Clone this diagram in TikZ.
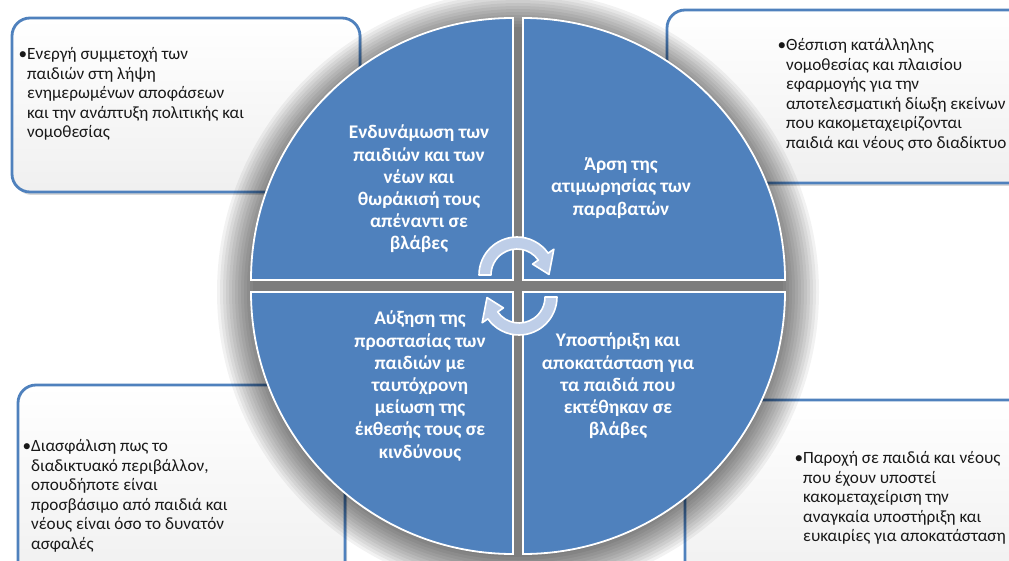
\documentclass[tikz,border=0pt]{standalone}
\usepackage{fontspec}
\setmainfont{Carlito}
\usetikzlibrary{shadows}
\definecolor{quadblue}{RGB}{79,129,189}
\definecolor{arrowblue}{RGB}{190,206,232}
\tikzset{
  infobox/.style={draw=quadblue, line width=2.8pt, rounded corners=18pt,
    top color=white, bottom color=black!6,
    drop shadow={shadow xshift=2pt, shadow yshift=-3pt, opacity=.3}},
  quad/.style={fill=quadblue, draw=white, line width=1.8pt},
  quadtext/.style={text=white, font=\bfseries\fontsize{19.3}{22.2}\selectfont, align=center, inner sep=0pt},
  boxtext/.style={font=\fontsize{17.2}{19.5}\selectfont, align=left, anchor=west, inner sep=0pt, text=black!90},
  cycarrow/.style={fill=arrowblue, draw=white, line width=1.6pt, line join=round}
}
\begin{document}
\begin{tikzpicture}[x=1pt,y=-1pt]
\useasboundingbox (0,0) rectangle (1009,561);
\clip (0,0) rectangle (1009,561);
\fill[white] (0,0) rectangle (1009,561);
\draw[infobox] (12,18) rectangle (360,192);
\draw[infobox] (667,10) rectangle (1030,183);
\draw[infobox] (18,385) rectangle (345,585);
\draw[infobox] (685,400) rectangle (1030,585);
\foreach \r in {265,268,...,301} \fill[black, opacity=.05] (518,292) circle[radius=\r];
\path[quad] (513,280) -- (251,280) arc[start angle=180, end angle=270, radius=262] -- cycle;
\path[quad] (523,280) -- (523,18) arc[start angle=270, end angle=360, radius=262] -- cycle;
\path[quad] (513,292) -- (251,292) arc[start angle=180, end angle=90, radius=262] -- cycle;
\path[quad] (523,292) -- (785,292) arc[start angle=0, end angle=90, radius=262] -- cycle;
\begin{scope}[shift={(517,275)}]
\path[cycarrow] (180:38) arc[start angle=180, end angle=325, radius=38] -- (325:45) -- (359:32) -- (325:19) -- (325:26) arc[start angle=325, end angle=180, radius=26] -- cycle;
\end{scope}
\begin{scope}[shift={(519,297)}]
\path[cycarrow] (0:38) arc[start angle=0, end angle=145, radius=38] -- (145:45) -- (179:32) -- (145:19) -- (145:26) arc[start angle=145, end angle=0, radius=26] -- cycle;
\end{scope}
\node[quadtext] (empower) at (419,189) {Ενδυνάμωση των\\παιδιών και των\\νέων και\\θωράκισή τους\\απέναντι σε\\βλάβες};
\node[quadtext] (impunity) at (621,188) {Άρση της\\ατιμωρησίας των\\παραβατών};
\node[quadtext] (protect) at (420,386) {Αύξηση της\\προστασίας των\\παιδιών με\\ταυτόχρονη\\μείωση της\\έκθεσής τους σε\\κινδύνους};
\node[quadtext] (support) at (618,386) {Υποστήριξη και\\αποκατάσταση για\\τα παιδιά που\\εκτέθηκαν σε\\βλάβες};
\node[boxtext] (participation) at (27,94) {\llap{•}Ενεργή συμμετοχή των\\παιδιών στη λήψη\\ενημερωμένων αποφάσεων\\και την ανάπτυξη πολιτικής και\\νομοθεσίας};
\node[boxtext] (legislation) at (786,95) {\llap{•}Θέσπιση κατάλληλης\\νομοθεσίας και πλαισίου\\εφαρμογής για την\\αποτελεσματική δίωξη εκείνων\\που κακομεταχειρίζονται\\παιδιά και νέους στο διαδίκτυο};
\node[boxtext] (safety) at (31,496) {\llap{•}Διασφάλιση πως το\\διαδικτυακό περιβάλλον,\\οπουδήποτε είναι\\προσβάσιμο από παιδιά και\\νέους είναι όσο το δυνατόν\\ασφαλές};
\node[boxtext] (recovery) at (803,498) {\llap{•}Παροχή σε παιδιά και νέους\\που έχουν υποστεί\\κακομεταχείριση την\\αναγκαία υποστήριξη και\\ευκαιρίες για αποκατάσταση};
\end{tikzpicture}
\end{document}
